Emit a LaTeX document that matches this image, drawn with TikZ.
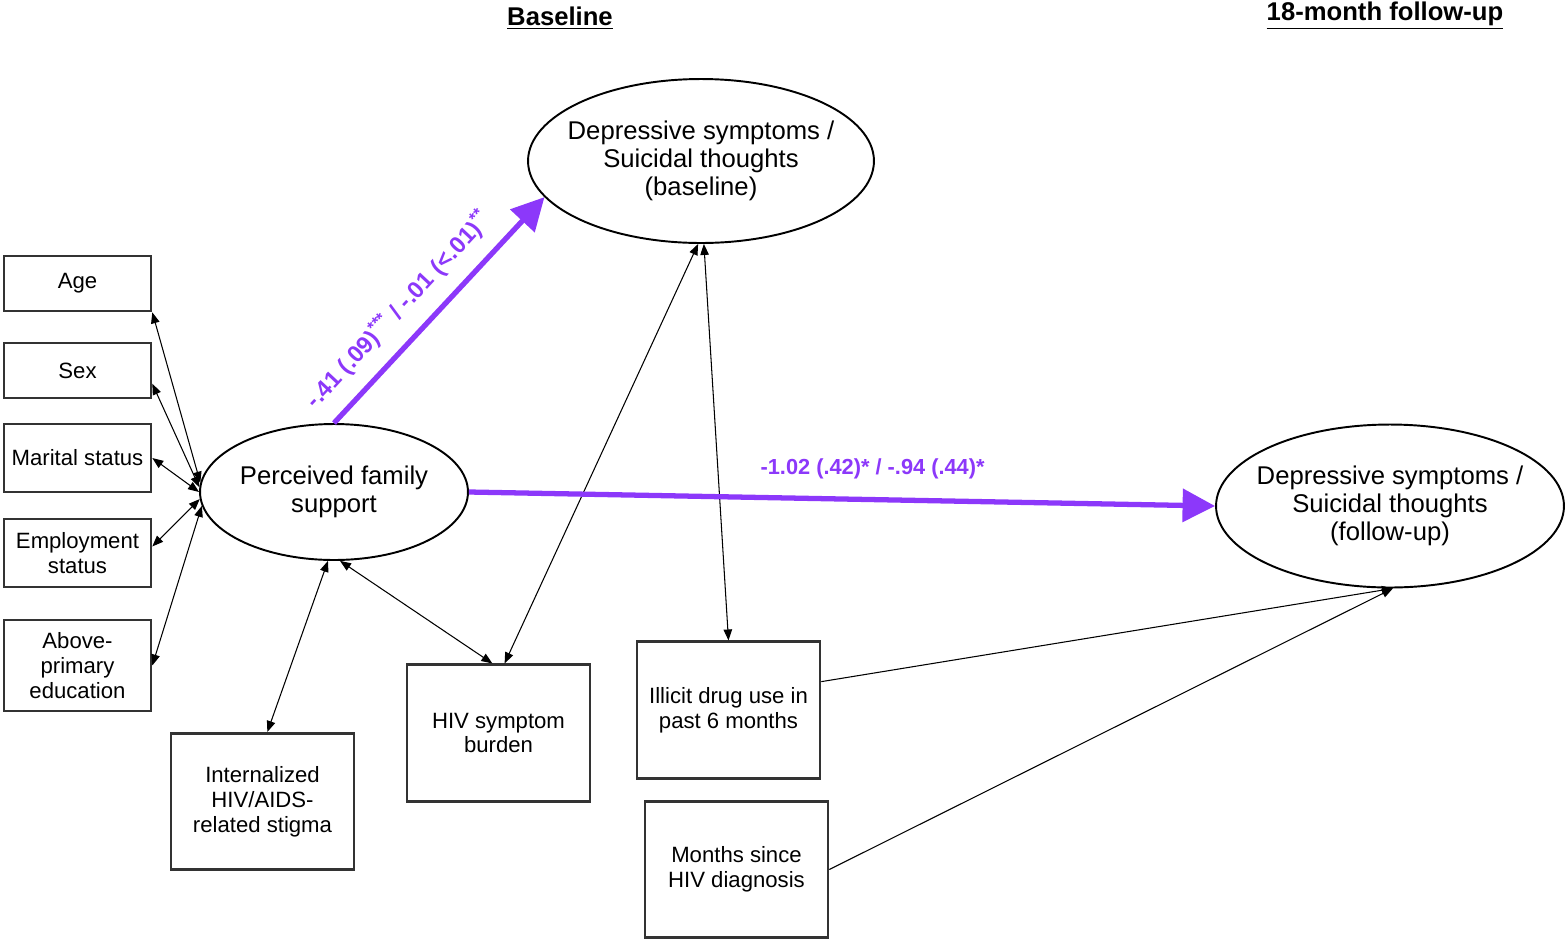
\documentclass[tikz,border=0pt]{standalone}
\usepackage{fontspec}
\setmainfont{Liberation Sans}
\usetikzlibrary{arrows.meta,shapes.geometric}
\definecolor{PathClr}{rgb}{0.55,0.22,0.98}
\definecolor{BoxClr}{rgb}{0.2,0.2,0.2}

\tikzset{
  varbox/.style={draw=BoxClr,line width=1.5pt,rectangle,align=center,inner sep=0pt,
    minimum width=2.94cm,font=\fontsize{12.6}{14.2}\selectfont},
  bigbox/.style={varbox,minimum width=3.66cm,minimum height=2.73cm},
  latent/.style={draw,line width=1.1pt,ellipse,align=center,inner sep=-0.6cm,
    font=\fontsize{14.6}{15.9}\selectfont},
  assoc/.style={{Triangle[length=2.2mm,width=1.7mm]}-{Triangle[length=2.2mm,width=1.7mm]},line width=0.6pt},
  effect/.style={-{Triangle[length=2.2mm,width=1.7mm]},line width=0.6pt},
  strong/.style={-{Triangle[length=6.5mm,width=6.5mm]},line width=3pt,draw=PathClr},
  pathlbl/.style={text=PathClr,inner sep=0pt,font=\bfseries\fontsize{12.4}{14}\selectfont},
  heading/.style={font=\bfseries\fontsize{14.6}{16}\selectfont}
}

\begin{document}
\begin{tikzpicture}[x=0.02cm,y=-0.02cm]
\useasboundingbox (0,0) rectangle (1566,941);

\node[heading] (tbase) at (560,18) {\underline{Baseline}};
\node[heading] (tfu) at (1385,16) {\underline{18-month follow-up}};

% latent variables
\node[latent,minimum width=5.36cm,minimum height=2.72cm] (pfs) at (334,492) {Perceived family\\support};
\node[latent,minimum width=6.92cm,minimum height=3.28cm] (dbl) at (701,161) {Depressive symptoms /\\Suicidal thoughts\\(baseline)};
\node[latent,minimum width=6.96cm,minimum height=3.26cm] (fu) at (1390,506) {Depressive symptoms /\\Suicidal thoughts\\(follow-up)};

% covariates
\node[varbox,minimum height=1.1cm] (age) at (77.5,283.5) {Age};
\node[varbox,minimum height=1.1cm] (sex) at (77.5,370.5) {Sex};
\node[varbox,minimum height=1.36cm] (mar) at (77.5,458) {Marital status};
\node[varbox,minimum height=1.36cm] (emp) at (77.5,553) {Employment\\status};
\node[varbox,minimum height=1.82cm] (edu) at (77.5,665.5) {Above-\\primary\\education};
\node[bigbox] (ist) at (262.5,801.5) {Internalized\\HIV/AIDS-\\related stigma};
\node[bigbox] (hiv) at (498.5,733) {HIV symptom\\burden};
\node[bigbox] (ill) at (728.5,710) {Illicit drug use in\\past 6 months};
\node[bigbox] (mon) at (736.5,869.5) {Months since\\HIV diagnosis};

\draw[assoc] (pfs.176) -- (age.south east);
\draw[assoc] (pfs.178) -- (sex.-10);
\draw[assoc] (pfs.180) -- (mar.east);
\draw[assoc] (pfs.183) -- (emp.5);
\draw[assoc] (pfs.186) -- (edu.east);
\draw[assoc] (pfs.265) -- (ist.86);
\draw[assoc] (pfs.275) -- (hiv.95);
\draw[assoc] (dbl.268) -- (hiv.85);
\draw[assoc] (dbl.272) -- (ill.north);
\draw[effect] (ill.17) -- (fu.272);
\draw[effect] (mon.east) -- (fu.272);

% paths of interest
\draw[strong] (pfs.north) -- node[pathlbl,sloped,above=3mm,pos=0.41,font=\bfseries\fontsize{13.4}{15}\selectfont]
  {-.41 (.09)\textsuperscript{***} / -.01 (<.01)\textsuperscript{**}} (dbl.193);
\draw[strong] (pfs.east) -- node[pathlbl,above=3.5mm,pos=0.541]
  {-1.02 (.42)* / -.94 (.44)*} (fu.west);

\end{tikzpicture}
\end{document}
